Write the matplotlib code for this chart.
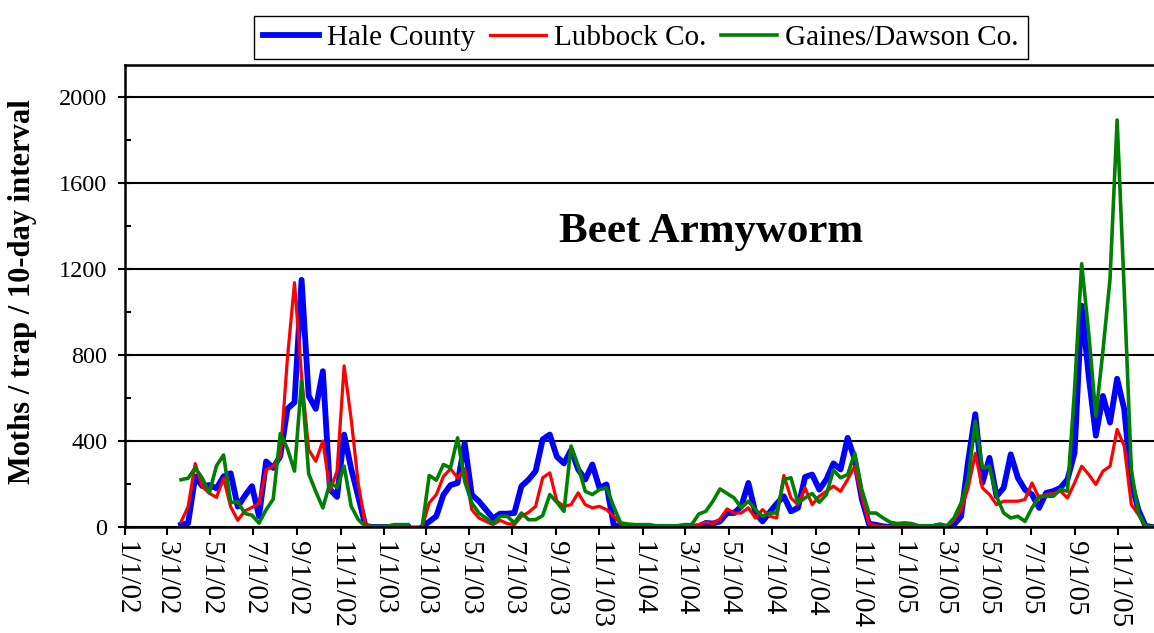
import numpy as np
import pandas as pd
import matplotlib
matplotlib.use('Agg')
import matplotlib.pyplot as plt
import matplotlib.dates as mdates
from matplotlib.ticker import FuncFormatter, MultipleLocator

plt.rcParams['font.family'] = ['Liberation Serif', 'DejaVu Serif']

nan = np.nan

# trap catches every 10 days, starting 3/21/02
start_date = '2002-03-21'

hale = [10, 18, 235, 190, 195, 180, 235, 250, 95, 145, 190, 50, 305, 275, 330, 550, 580, 1150, 610, 550,
        725, 175, 140, 430, 270, 140, 5, 0, 0, 0, 0, 0, 0, nan, 0, 25, 50, 150, 195, 205,
        390, 150, 120, 80, 40, 62, 62, 65, 190, 220, 260, 408, 430, 327, 296, 358, 268, 221, 291, 182,
        198, 10, 0, 0, 0, 0, 0, 0, 0, 0, 0, 0, 0, 3, 19, 16, 26, 65, 65, 96,
        205, 65, 26, 68, 109, 143, 73, 89, 233, 244, 174, 221, 296, 268, 415, 314, 130, 15, 10, 3,
        0, 0, 0, 0, 0, 0, 0, 0, 0, 11, 50, 310, 525, 205, 322, 143, 182, 338, 229, 174,
        151, 89, 159, 167, 182, 221, 345, 1030, 700, 425, 610, 486, 690, 548, 205, 80, 5, 0]

lubbock = [24, 94, 295, 188, 157, 138, 227, 94, 31, 75, 91, 110, 267, 282, 329, 784, 1137, 700, 360, 306,
           400, 170, 260, 750, 500, 200, 10, 0, 0, 0, 0, 0, 0, 0, 0, 112, 151, 235, 271, 229,
           271, 81, 42, 26, 11, 31, 16, 11, 50, 68, 96, 229, 252, 120, 96, 104, 159, 104, 89, 96,
           81, 50, 16, 5, 5, 5, 5, 5, 5, 5, 5, 5, 5, 11, 22, 16, 37, 84, 65, 65,
           89, 42, 81, 50, 42, 240, 135, 104, 182, 104, 143, 166, 190, 166, 221, 283, 143, 16, 6, 3,
           3, 3, 6, 6, 6, 3, 6, 11, 3, 31, 81, 182, 342, 182, 151, 104, 120, 120, 120, 128,
           205, 135, 151, 156, 167, 135, 205, 283, 244, 198, 260, 283, 454, 377, 104, 58, 3, 0]

gaines = [220, 227, 275, 227, 160, 285, 335, 113, 118, 63, 55, 18, 80, 130, 435, 365, 260, 682, 248, 165,
          89, 205, 185, 283, 96, 34, 3, 3, 3, 3, 11, 11, 11, nan, 0, 240, 218, 291, 275, 415,
          213, 112, 65, 42, 16, 50, 50, 19, 65, 34, 34, 53, 151, 115, 73, 377, 283, 166, 151, 174,
          182, 96, 19, 14, 11, 11, 11, 6, 6, 6, 6, 11, 11, 60, 73, 120, 177, 156, 135, 89,
          120, 81, 50, 65, 65, 221, 229, 112, 135, 156, 115, 151, 265, 229, 244, 345, 174, 65, 65, 42,
          22, 16, 19, 16, 6, 6, 6, 14, 6, 42, 112, 221, 493, 275, 283, 143, 65, 42, 50, 26,
          89, 143, 143, 143, 174, 167, 640, 1225, 900, 517, 820, 1155, 1894, 1100, 268, 65, 3, 3]

dates = pd.date_range(start_date, periods=len(hale), freq='10D')

fig = plt.figure(figsize=(11.54, 6.33), dpi=100)
ax = fig.add_axes([125 / 1154, 1 - 527 / 633, 1 - 125 / 1154, (527 - 65) / 633])

ax.plot(dates, hale, color='#0000FF', lw=4.2, label='Hale County', solid_joinstyle='round')
ax.plot(dates, lubbock, color='#FF0000', lw=2.3, label='Lubbock Co.')
ax.plot(dates, gaines, color='#008000', lw=2.6, label='Gaines/Dawson Co.')

ax.set_xlim(pd.Timestamp('2002-01-01'), pd.Timestamp('2005-12-22'))
ax.set_ylim(0, 2150)

ax.set_yticks([0, 400, 800, 1200, 1600, 2000])
ax.yaxis.set_minor_locator(MultipleLocator(200))
ax.grid(axis='y', which='major', color='black', lw=1.5)
ax.set_axisbelow(True)

ax.xaxis.set_major_locator(mdates.MonthLocator(bymonth=[1, 3, 5, 7, 9, 11]))
ax.xaxis.set_major_formatter(FuncFormatter(
    lambda v, p: '{}/{}/{:02d}'.format(mdates.num2date(v).month, mdates.num2date(v).day,
                                        mdates.num2date(v).year % 100)))

for s in ['left', 'bottom', 'top']:
    ax.spines[s].set_linewidth(1.8)
ax.spines['right'].set_visible(False)

ax.tick_params(axis='y', which='major', direction='inout', length=9.5, width=1.5,
               labelsize=17.5, pad=8)
ax.tick_params(axis='y', which='minor', direction='in', length=4.5, width=1.5)
ax.tick_params(axis='x', which='major', direction='out', length=6, width=1.5,
               labelsize=21, pad=4, labelrotation=-90)

ax.text(0.5695, 0.6385, 'Beet Armyworm', transform=ax.transAxes, ha='center', va='center',
        fontsize=31, fontweight='bold')

fig.text(23 / 1154, 1 - 292 / 633, 'Moths / trap / 10-day interval', rotation=90,
         ha='center', va='center', fontsize=22, fontweight='bold')

fig.legend(loc='center', bbox_to_anchor=(641 / 1154, 1 - 37.5 / 633), ncol=3, fontsize=21,
           frameon=True, fancybox=False, edgecolor='black', framealpha=1,
           handlelength=1.9, handletextpad=0.3, columnspacing=0.5, borderpad=0.3,
           borderaxespad=0)

fig.savefig('out.png', dpi=100)
